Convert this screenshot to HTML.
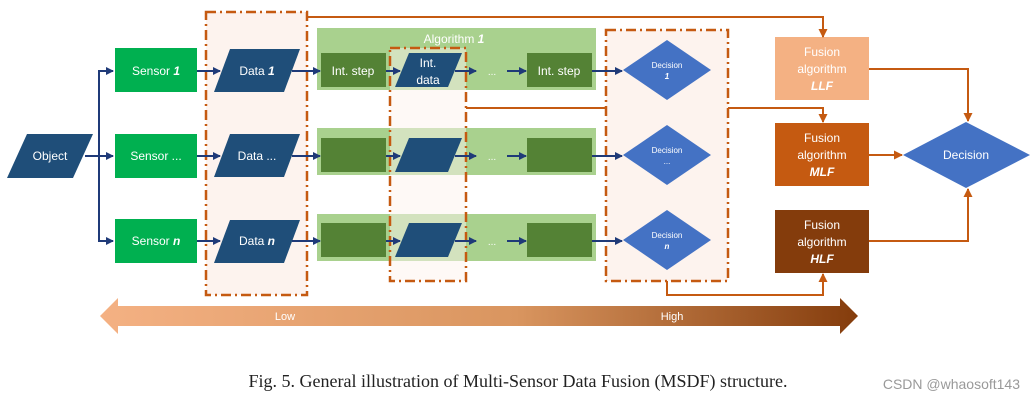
<!DOCTYPE html>
<html><head><meta charset="utf-8"><style>
body{margin:0;background:#fff;width:1035px;height:400px;overflow:hidden}
svg{display:block}
text{font-family:"Liberation Sans",sans-serif;fill:#fff}
</style></head><body>
<svg width="1035" height="400" viewBox="0 0 1035 400">
<defs>
<marker id="nb" markerWidth="8" markerHeight="8" refX="7" refY="4" orient="auto" markerUnits="userSpaceOnUse"><path d="M0,0L8,4L0,8z" fill="#1f3a78"/></marker>
<marker id="ob" markerWidth="9" markerHeight="9" refX="8" refY="4.5" orient="auto" markerUnits="userSpaceOnUse"><path d="M0,0L9,4.5L0,9z" fill="#c55a11"/></marker>
<linearGradient id="g" x1="0" x2="1"><stop offset="0" stop-color="#f4b183"/><stop offset="0.55" stop-color="#d9955f"/><stop offset="1" stop-color="#843c0c"/></linearGradient>
</defs>
<g fill="#fdf3ee" stroke="#c55a11" stroke-width="2.5" stroke-dasharray="10,4,2,4">
<rect x="206" y="12" width="101" height="283"/>
<rect x="606" y="30" width="122" height="251"/>
</g>
<g fill="#a9d18e">
<rect x="317" y="28" width="279" height="62"/>
<rect x="317" y="128" width="279" height="47"/>
<rect x="317" y="214" width="279" height="47"/>
</g>
<text x="454" y="43" font-size="12" text-anchor="middle">Algorithm <tspan font-style="italic" font-weight="bold">1</tspan></text>
<rect x="390" y="48" width="76" height="233" fill="#fdf3ee" opacity="0.5"/>
<g fill="#548235">
<rect x="321" y="53" width="65" height="34"/><rect x="527" y="53" width="65" height="34"/>
<rect x="321" y="138" width="65" height="34"/><rect x="527" y="138" width="65" height="34"/>
<rect x="321" y="223" width="65" height="34"/><rect x="527" y="223" width="65" height="34"/>
</g>
<g fill="#1f4e79">
<polygon points="395,87 409,53 462,53 448,87"/>
<polygon points="395,172 409,138 462,138 448,172"/>
<polygon points="395,257 409,223 462,223 448,257"/>
</g>
<rect x="390" y="48" width="76" height="233" fill="none" stroke="#c55a11" stroke-width="2.5" stroke-dasharray="10,4,2,4"/>
<g fill="#00b050">
<rect x="115" y="48" width="82" height="44"/><rect x="115" y="134" width="82" height="44"/><rect x="115" y="219" width="82" height="44"/>
</g>
<g fill="#1f4e79">
<polygon points="7,178 27,134 93,134 73,178"/>
<polygon points="214,92 230,49 300,49 284,92"/>
<polygon points="214,177 230,134 300,134 284,177"/>
<polygon points="214,263 230,220 300,220 284,263"/>
</g>
<g fill="#4472c4">
<polygon points="623,70 667,40 711,70 667,100"/>
<polygon points="623,155 667,125 711,155 667,185"/>
<polygon points="623,240 667,210 711,240 667,270"/>
<polygon points="903,155 966,122 1030,155 966,188"/>
</g>
<rect x="775" y="37" width="94" height="63" fill="#f4b183"/>
<rect x="775" y="123" width="94" height="63" fill="#c55a11"/>
<rect x="775" y="210" width="94" height="63" fill="#843c0c"/>
<g stroke="#1f3a78" stroke-width="2" fill="none" marker-end="url(#nb)">
<path d="M85,156H113"/><path d="M99,156V71H113"/><path d="M99,156V241H113"/>
<path d="M197,71H220"/><path d="M197,156H220"/><path d="M197,241H220"/>
<path d="M292,71H320"/><path d="M292,156H320"/><path d="M292,241H320"/>
<path d="M386,71H400"/><path d="M386,156H400"/><path d="M386,241H400"/>
<path d="M455,71H476"/><path d="M455,156H476"/><path d="M455,241H476"/>
<path d="M507,71H526"/><path d="M507,156H526"/><path d="M507,241H526"/>
<path d="M592,71H622"/><path d="M592,156H622"/><path d="M592,241H622"/>
</g>
<g stroke="#c55a11" stroke-width="2" fill="none" marker-end="url(#ob)">
<path d="M307,17H823V37"/>
<path d="M728,108H823V122"/>
<path d="M667,281V295H823V274"/>
<path d="M869,69H968V121"/>
<path d="M869,155H902"/>
<path d="M869,241H968V189"/>
</g>
<path d="M466,108H606" stroke="#c55a11" stroke-width="2"/>
<g font-size="12" text-anchor="middle">
<text x="50" y="160">Object</text>
<text x="156" y="75">Sensor <tspan font-style="italic" font-weight="bold">1</tspan></text>
<text x="156" y="160">Sensor ...</text>
<text x="156" y="245">Sensor <tspan font-style="italic" font-weight="bold">n</tspan></text>
<text x="257" y="75">Data <tspan font-style="italic" font-weight="bold">1</tspan></text>
<text x="257" y="160">Data ...</text>
<text x="257" y="245">Data <tspan font-style="italic" font-weight="bold">n</tspan></text>
<text x="353" y="75">Int. step</text>
<text x="559" y="75">Int. step</text>
<text x="428" y="67">Int.</text><text x="428" y="84">data</text>
<text x="492" y="75" font-size="10">...</text><text x="492" y="160" font-size="10">...</text><text x="492" y="245" font-size="10">...</text>
<text x="667" y="68" font-size="8">Decision</text><text x="667" y="79" font-size="8" font-style="italic" font-weight="bold">1</text>
<text x="667" y="153" font-size="8">Decision</text><text x="667" y="164" font-size="8">...</text>
<text x="667" y="238" font-size="8">Decision</text><text x="667" y="249" font-size="8" font-style="italic" font-weight="bold">n</text>
<text x="966" y="159" font-size="12">Decision</text>
<text x="822" y="56">Fusion</text><text x="822" y="73">algorithm</text><text x="822" y="90" font-style="italic" font-weight="bold">LLF</text>
<text x="822" y="142">Fusion</text><text x="822" y="159">algorithm</text><text x="822" y="176" font-style="italic" font-weight="bold">MLF</text>
<text x="822" y="229">Fusion</text><text x="822" y="246">algorithm</text><text x="822" y="263" font-style="italic" font-weight="bold">HLF</text>
</g>
<polygon points="100,316 118,298 118,306 840,306 840,298 858,316 840,334 840,326 118,326 118,334" fill="url(#g)"/>
<text x="285" y="320" font-size="11" text-anchor="middle">Low</text>
<text x="672" y="320" font-size="11" text-anchor="middle">High</text>
<text x="518" y="387" font-size="18" text-anchor="middle" style="fill:#222;font-family:'Liberation Serif',serif">Fig. 5.  General illustration of Multi-Sensor Data Fusion (MSDF) structure.</text>
<text x="1020" y="389" font-size="14" text-anchor="end" style="fill:#999">CSDN @whaosoft143</text>
</svg>
</body></html>
